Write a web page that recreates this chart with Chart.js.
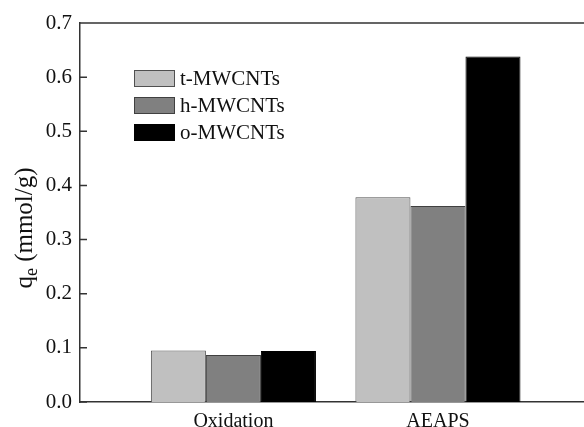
<!DOCTYPE html>
<html>
<head>
<meta charset="utf-8">
<script src="https://cdn.jsdelivr.net/npm/chart.js@4"></script>
<style>
  body { margin: 0; background: #fff; overflow: hidden; }
  #wrap { position: relative; width: 584px; height: 427px; }
  #legend { position: absolute; left: 134px; top: 65px; font: 21px "Liberation Serif", serif; color: #111; }
  #legend .row { display: flex; align-items: center; height: 27px; }
  #legend .box { width: 41px; height: 17px; box-sizing: border-box; border: 1px solid #555; margin-right: 5px; }
  #ytitle { position: absolute; left: -75px; top: 213px; width: 200px; height: 30px; line-height: 30px;
            text-align: center; transform: rotate(-90deg); font: 25px "Liberation Serif", serif; color: #111; white-space: nowrap; }
  #ytitle sub { font-size: 18px; vertical-align: -5px; line-height: 0; }
</style>
</head>
<body>
<div id="wrap">
  <canvas id="chart"></canvas>
  <div id="ytitle">q<sub>e</sub> (mmol/g)</div>
  <div id="legend"></div>
</div>
<script>
// categories and series (qe, mmol/g)
const categories = ["Oxidation", "AEAPS"];
const seriesNames = ["t-MWCNTs", "h-MWCNTs", "o-MWCNTs"];
const tMWCNTs = [0.095, 0.378];
const hMWCNTs = [0.087, 0.362];
const oMWCNTs = [0.094, 0.638];
const yTicks = [0, 0.1, 0.2, 0.3, 0.4, 0.5, 0.6, 0.7];
const colors = ["#c0c0c0", "#808080", "#000000"];
const borders = ["#505050", "#404040", "#000000"];

const seriesValues = [tMWCNTs, hMWCNTs, oMWCNTs];

// frame: top line + inward tick marks
const framePlugin = {
  id: "frame",
  afterDatasetsDraw(chart) {
    const { ctx, chartArea } = chart;
    const y = chart.scales.y;
    ctx.save();
    ctx.strokeStyle = "#333";
    ctx.lineWidth = 1.5;
    ctx.beginPath();
    ctx.moveTo(chartArea.left, chartArea.top);
    ctx.lineTo(chartArea.right, chartArea.top);
    yTicks.forEach(v => {
      const py = y.getPixelForValue(v);
      ctx.moveTo(chartArea.left, py);
      ctx.lineTo(chartArea.left + 7, py);
    });
    ctx.stroke();
    ctx.restore();
  }
};

function buildLegend() {
  const legend = document.getElementById("legend");
  seriesNames.forEach((name, i) => {
    const row = document.createElement("div");
    row.className = "row";
    row.innerHTML = `<span class="box" style="background:${colors[i]};border-color:${borders[i]}"></span><span>${name}</span>`;
    legend.appendChild(row);
  });
}

function initChart() {
  const ctx = document.getElementById("chart").getContext("2d");
  new Chart(ctx, {
    type: "bar",
    data: {
      datasets: seriesNames.map((name, i) => ({
        label: name,
        data: seriesValues[i].map((v, j) => ({ x: j + 1, y: v })),
        backgroundColor: colors[i],
        borderColor: borders[i],
        borderWidth: 1,
        categoryPercentage: 0.807,
        barPercentage: 1
      }))
    },
    options: {
      responsive: true,
      maintainAspectRatio: false,
      animation: false,
      layout: { padding: { top: 23, right: 0, left: 0, bottom: 0 } },
      plugins: { legend: { display: false }, tooltip: { enabled: false } },
      scales: {
        x: {
          type: "linear",
          offset: false,
          min: 0.25,
          max: 2.714,
          grid: { display: false },
          border: { display: true, color: "#333", width: 1.5 },
          afterBuildTicks: s => { s.ticks = categories.map((c, i) => ({ value: i + 1 })); },
          afterFit: s => { s.height = 25; },
          ticks: {
            color: "#111",
            padding: 0,
            maxRotation: 0,
            autoSkip: false,
            font: { family: "'Liberation Serif', serif", size: 20 },
            callback: v => categories[v - 1]
          }
        },
        y: {
          min: 0,
          max: 0.7,
          grid: { display: false, drawTicks: false },
          border: { display: true, color: "#333", width: 1.5 },
          afterBuildTicks: s => { s.ticks = yTicks.map(v => ({ value: v })); },
          afterFit: s => { s.width = 80; },
          ticks: {
            color: "#111",
            padding: 8,
            font: { family: "'Liberation Serif', serif", size: 21 },
            callback: v => v.toFixed(1)
          }
        }
      }
    },
    plugins: [framePlugin]
  });
}

document.addEventListener("DOMContentLoaded", function() {
  buildLegend();
  initChart();
});
</script>
</body>
</html>
